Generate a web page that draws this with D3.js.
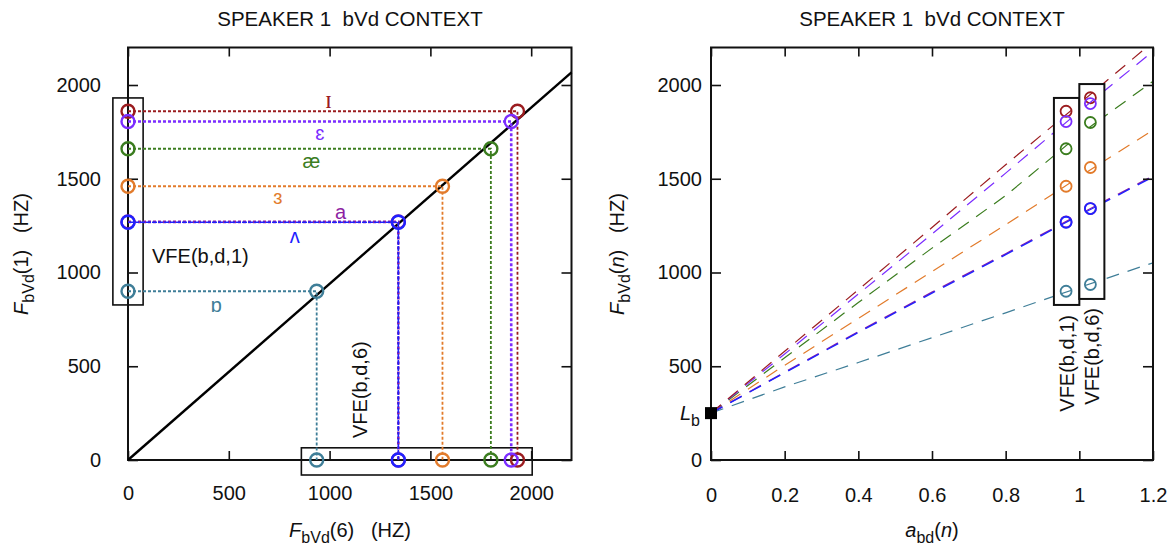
<!DOCTYPE html>
<html>
<head>
<meta charset="utf-8">
<script src="https://cdn.jsdelivr.net/npm/d3@7"></script>
<style>
  body { margin: 0; background: #fff; }
  svg text { font-family: "Liberation Sans", Arial, sans-serif; fill: #111; white-space: pre; }
</style>
</head>
<body>
<script>
'use strict';

// vowels and their formant values
const vowels = ['ɪ', 'ɛ', 'æ', 'ɜ', 'a', 'ʌ', 'ɒ'];
const fbvd1 = [1860, 1805, 1660, 1460, 1270, 1268, 900];   // F_bVd(1)
const fbvd6 = [1932, 1901, 1800, 1560, 1341, 1341, 936];   // F_bVd(6)
const vowelColors = ['#9b1c1f', '#7b2dff', '#3b7d1f', '#e27b2b', '#8e1fa3', '#1f22ff', '#3f7e98'];

// diagonal reference line in the left panel
const diagX = [0, 2200];
const diagY = [0, 2067];

// a_bd(n) positions of the two VFE columns
const aVfe1 = 0.964;
const aVfe6 = 1.03;

// dashed curves in the right panel, sampled at aGrid
const aGrid = [0, 0.2, 0.4, 0.6, 0.8, 1.0, 1.2];
const curveI  = [250, 580, 908, 1240, 1575, 1900, 2230];
const curveE  = [250, 565, 885, 1205, 1530, 1860, 2180];
const curveAe = [250, 545, 840, 1130, 1410, 1735, 2020];
const curveEr = [250, 505, 755, 1005, 1255, 1510, 1760];
const curveA  = [250, 468, 684, 895, 1100, 1310, 1515];
const curveV  = [250, 465, 680, 890, 1095, 1305, 1510];
const curveO  = [250, 390, 520, 652, 785, 920, 1052];
const curves = [curveI, curveE, curveAe, curveEr, curveA, curveV, curveO];
const lb = 250;   // L_b

// tick values
const leftXTicks = [0, 500, 1000, 1500, 2000];
const leftYTicks = [0, 500, 1000, 1500, 2000];
const rightXTicks = [0, 0.2, 0.4, 0.6, 0.8, 1.0, 1.2];
const rightYTicks = [0, 500, 1000, 1500, 2000];

(function() {
  const svg = d3.select('body').append('svg')
    .attr('width', 1172)
    .attr('height', 545);

  const xL = d3.scaleLinear().domain([0, 2200]).range([128, 571.5]);
  const yL = d3.scaleLinear().domain([0, 2200]).range([460, 47.5]);
  const xR = d3.scaleLinear().domain([0, 1.2]).range([711, 1153]);
  const yR = yL.copy();

  // frame + inward ticks on all four sides (gnuplot style)
  function drawAxes(x, y, xTicks, yTicks, xFmt, xPad, yPad) {
    const x0 = x.range()[0], x1 = x.range()[1];
    const y0 = y.range()[0], y1 = y.range()[1];

    const axes = [
      svg.append('g').attr('transform', `translate(0,${y0})`)
        .call(d3.axisBottom(x).tickValues(xTicks).tickSizeInner(-9).tickSizeOuter(0)
          .tickPadding(xPad).tickFormat(xFmt)),
      svg.append('g').attr('transform', `translate(0,${y1})`)
        .call(d3.axisTop(x).tickValues(xTicks).tickSizeInner(-9).tickSizeOuter(0).tickFormat('')),
      svg.append('g').attr('transform', `translate(${x0},0)`)
        .call(d3.axisLeft(y).tickValues(yTicks).tickSizeInner(-10).tickSizeOuter(0)
          .tickPadding(yPad).tickFormat(d3.format('d'))),
      svg.append('g').attr('transform', `translate(${x1},0)`)
        .call(d3.axisRight(y).tickValues(yTicks).tickSizeInner(-10).tickSizeOuter(0).tickFormat(''))
    ];
    axes.forEach(function(g) {
      g.attr('font-size', 20).attr('font-family', null);
      g.select('.domain').remove();
      g.selectAll('line').attr('stroke', '#111').attr('stroke-width', 1.6);
      g.selectAll('text').attr('fill', '#111');
    });

    svg.append('rect')
      .attr('x', x0).attr('y', y1)
      .attr('width', x1 - x0).attr('height', y0 - y1)
      .attr('fill', 'none').attr('stroke', '#111').attr('stroke-width', 2);
  }

  function title(cx, txt) {
    svg.append('text')
      .attr('x', cx).attr('y', 26)
      .attr('text-anchor', 'middle')
      .style('font-size', '20.5px')
      .text(txt);
  }

  // subscripted axis label: parts = [[text, italic, sub], ...]
  function subLabel(g, parts) {
    const t = g.append('text').attr('text-anchor', 'middle').style('font-size', '20px');
    let wasSub = false;
    parts.forEach(function(p) {
      const s = t.append('tspan').text(p[0]);
      if (p[1]) s.style('font-style', 'italic');
      if (p[2]) s.style('font-size', '16px');
      if (p[2] && !wasSub) s.attr('dy', 6);
      if (!p[2] && wasSub) s.attr('dy', -6);
      wasSub = p[2];
    });
    return t;
  }

  // ---------------- left panel ----------------
  title(350, 'SPEAKER 1  bVd CONTEXT');

  // VFE boxes (unfilled)
  svg.append('rect')
    .attr('x', xL(-75)).attr('y', yL(1931))
    .attr('width', xL(75) - xL(-75)).attr('height', yL(827) - yL(1931))
    .attr('fill', 'none').attr('stroke', '#111').attr('stroke-width', 1.6);
  svg.append('rect')
    .attr('x', xL(860)).attr('y', yL(65))
    .attr('width', xL(2005) - xL(860)).attr('height', yL(-80) - yL(65))
    .attr('fill', 'none').attr('stroke', '#111').attr('stroke-width', 1.6);

  drawAxes(xL, yL, leftXTicks, leftYTicks, d3.format('d'), 26, 27);

  // diagonal
  svg.append('path')
    .datum(d3.zip(diagX, diagY))
    .attr('fill', 'none').attr('stroke', '#000').attr('stroke-width', 2.4)
    .attr('d', d3.line().x(d => xL(d[0])).y(d => yL(d[1])));

  // dotted projection lines
  const dotWidth = [1.8, 2.6, 1.8, 1.8, 2.6, 1.6, 1.8];
  const dotDash = ['3,2', '3,2', '3,2', '3,2', '3,2', '5,1', '3,2'];
  vowels.forEach(function(v, i) {
    svg.append('path')
      .datum([[0, fbvd1[i]], [fbvd6[i], fbvd1[i]], [fbvd6[i], 0]])
      .attr('fill', 'none')
      .attr('stroke', vowelColors[i])
      .attr('stroke-width', dotWidth[i])
      .attr('stroke-dasharray', dotDash[i])
      .attr('d', d3.line().x(d => xL(d[0])).y(d => yL(d[1])));
  });

  // circles: on the y axis, on the diagonal, on the x axis
  vowels.forEach(function(v, i) {
    [[0, fbvd1[i]], [fbvd6[i], fbvd1[i]], [fbvd6[i], 0]].forEach(function(p) {
      svg.append('circle')
        .attr('cx', xL(p[0])).attr('cy', yL(p[1])).attr('r', 6.5)
        .attr('fill', 'none').attr('stroke', vowelColors[i]).attr('stroke-width', 2.4);
    });
  });

  // vowel labels: [x in Hz, pixel offset from the line]
  const labelAt = [[995, -12], [951, 11], [910, 12], [743, 11], [1054, -10], [827, 14], [438, 14]];
  vowels.forEach(function(v, i) {
    svg.append('text')
      .attr('x', xL(labelAt[i][0]))
      .attr('y', yL(fbvd1[i]) + labelAt[i][1])
      .attr('text-anchor', 'middle')
      .attr('dominant-baseline', 'central')
      .style('font-size', v === 'ɪ' ? '25px' : '20px')
      .style('font-family', v === 'ɪ' ? '"Liberation Serif", serif' : null)
      .style('fill', vowelColors[i])
      .text(v);
  });

  svg.append('text')
    .attr('x', 152).attr('y', yL(1090))
    .attr('dominant-baseline', 'central')
    .style('font-size', '20px')
    .text('VFE(b,d,1)');
  svg.append('text')
    .attr('transform', `translate(${xL(1150)},438)rotate(-90)`)
    .attr('dominant-baseline', 'central')
    .style('font-size', '20px')
    .text('VFE(b,d,6)');

  // axis labels
  subLabel(svg.append('g').attr('transform', 'translate(350,537)'),
    [['F', true, false], ['bVd', false, true], ['(6)   (HZ)', false, false]]);
  subLabel(svg.append('g').attr('transform', 'translate(28,254)rotate(-90)'),
    [['F', true, false], ['bVd', false, true], ['(1)   (HZ)', false, false]]);

  // ---------------- right panel ----------------
  title(932, 'SPEAKER 1  bVd CONTEXT');

  svg.append('clipPath').attr('id', 'rclip')
    .append('rect')
    .attr('x', 711).attr('y', 47.5)
    .attr('width', 442).attr('height', 412.5);

  const curveLine = d3.line().x(d => xR(d[0])).y(d => yR(d[1]));
  const order = [6, 3, 2, 4, 5, 1, 0];
  order.forEach(function(i) {
    svg.append('path')
      .datum(d3.zip(aGrid, curves[i]))
      .attr('clip-path', 'url(#rclip)')
      .attr('fill', 'none')
      .attr('stroke', vowelColors[i])
      .attr('stroke-width', i === 5 || i === 4 ? 1.4 : 1.2)
      .attr('stroke-dasharray', '13,9')
      .attr('d', curveLine);
  });

  // white boxes over the curves
  svg.append('rect')
    .attr('x', xR(0.931)).attr('y', yR(1931))
    .attr('width', xR(1.0) - xR(0.931)).attr('height', yR(827) - yR(1931))
    .attr('fill', '#fff').attr('stroke', '#111').attr('stroke-width', 2);
  svg.append('rect')
    .attr('x', xR(1.0)).attr('y', yR(2005))
    .attr('width', xR(1.068) - xR(1.0)).attr('height', yR(859) - yR(2005))
    .attr('fill', '#fff').attr('stroke', '#111').attr('stroke-width', 2);

  drawAxes(xR, yR, rightXTicks, rightYTicks, d => String(+d.toFixed(1)), 28, 9);

  // circles with the curve showing through them
  let cid = 0;
  vowels.forEach(function(v, i) {
    [[aVfe1, fbvd1[i]], [aVfe6, fbvd6[i]]].forEach(function(p) {
      const id = 'cc' + (cid++);
      svg.append('clipPath').attr('id', id)
        .append('circle').attr('cx', xR(p[0])).attr('cy', yR(p[1])).attr('r', 5.5);
      svg.append('path')
        .datum(d3.zip(aGrid, curves[i]))
        .attr('clip-path', `url(#${id})`)
        .attr('fill', 'none').attr('stroke', vowelColors[i]).attr('stroke-width', 1.2)
        .attr('d', curveLine);
      svg.append('circle')
        .attr('cx', xR(p[0])).attr('cy', yR(p[1])).attr('r', 5.5)
        .attr('fill', 'none').attr('stroke', vowelColors[i]).attr('stroke-width', 1.8);
    });
  });

  // L_b marker
  svg.append('rect')
    .attr('x', xR(0) - 6).attr('y', yR(lb) - 6)
    .attr('width', 12).attr('height', 12)
    .attr('fill', '#000');
  const lbText = svg.append('text')
    .attr('x', 700).attr('y', yR(lb) + 7)
    .attr('text-anchor', 'end')
    .style('font-size', '20px');
  lbText.append('tspan').style('font-style', 'italic').text('L');
  lbText.append('tspan').style('font-size', '16px').attr('dy', 6).text('b');

  svg.append('text')
    .attr('transform', `translate(${xR(0.966)},315)rotate(-90)`)
    .attr('text-anchor', 'end')
    .attr('dominant-baseline', 'central')
    .style('font-size', '20px')
    .text('VFE(b,d,1)');
  svg.append('text')
    .attr('transform', `translate(${xR(1.034)},308)rotate(-90)`)
    .attr('text-anchor', 'end')
    .attr('dominant-baseline', 'central')
    .style('font-size', '20px')
    .text('VFE(b,d,6)');

  subLabel(svg.append('g').attr('transform', 'translate(932,537)'),
    [['a', true, false], ['bd', false, true], ['(', false, false], ['n', true, false], [')', false, false]]);
  subLabel(svg.append('g').attr('transform', 'translate(624,254)rotate(-90)'),
    [['F', true, false], ['bVd', false, true], ['(', false, false], ['n', true, false], [')   (HZ)', false, false]]);
})();
</script>
</body>
</html>
